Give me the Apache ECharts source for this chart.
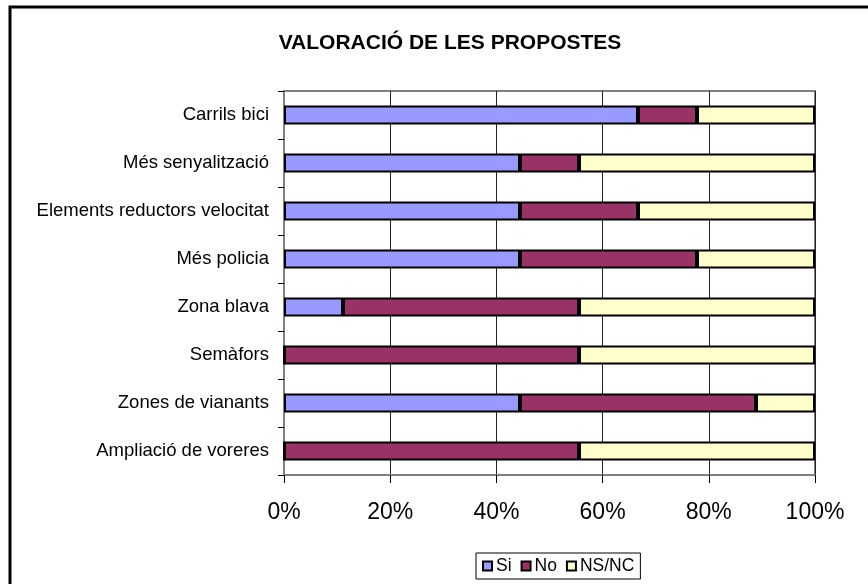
<!DOCTYPE html>
<html>
<head>
<meta charset="utf-8">
<script src="https://cdn.jsdelivr.net/npm/echarts@6/dist/echarts.min.js"></script>
<style>
  html, body { margin: 0; padding: 0; background: #fff; }
  #chart { width: 868px; height: 584px; }
</style>
</head>
<body>
<div id="chart"></div>
<script>
// respostes (9 persones per proposta)
const categories = ["Carrils bici", "Més senyalització", "Elements reductors velocitat", "Més policia",
  "Zona blava", "Semàfors", "Zones de vianants", "Ampliació de voreres"];
const si = [6, 4, 4, 4, 1, 0, 4, 0];
const no = [1, 1, 2, 3, 4, 5, 4, 5];
const nsnc = [2, 4, 3, 2, 4, 4, 1, 4];
const tickLabels = ["0%", "20%", "40%", "60%", "80%", "100%"];

const totals = categories.map((c, i) => si[i] + no[i] + nsnc[i]);
const pct = arr => arr.map((v, i) => (v / totals[i]) * 100);

const font = "'Liberation Sans', Arial, sans-serif";
const chart = echarts.init(document.getElementById("chart"));

function serie(name, data, color) {
  return {
    name: name,
    type: "bar",
    stack: "total",
    data: pct(data),
    barWidth: 19,
    itemStyle: { color: color, borderColor: "#000", borderWidth: 2 },
    emphasis: { disabled: true }
  };
}

chart.setOption({
  animation: false,
  textStyle: { fontFamily: font },
  title: {
    text: "VALORACIÓ DE LES PROPOSTES",
    left: 445,
    top: 28,
    textAlign: "center",
    textStyle: { fontFamily: font, fontWeight: "bold", fontSize: 21, color: "#000" }
  },
  graphic: [{
    type: "rect",
    shape: { x: 10, y: 7, width: 1000, height: 1000 },
    style: { fill: "none", stroke: "#000", lineWidth: 3 },
    z: -1
  }],
  legend: {
    top: 553,
    left: 476,
    icon: "rect",
    itemWidth: 9,
    itemHeight: 9,
    itemGap: 9,
    padding: [4, 6],
    borderColor: "#000",
    borderWidth: 1,
    textStyle: { fontFamily: font, fontSize: 17.5, color: "#000", padding: [0, 0, 0, -1] }
  },
  grid: {
    left: 284,
    right: 53,
    top: 91,
    bottom: 109,
    show: true,
    borderColor: "#808080",
    borderWidth: 2
  },
  xAxis: {
    type: "value",
    min: 0,
    max: 100,
    interval: 20,
    axisLine: { show: true, lineStyle: { color: "#808080", width: 2 } },
    axisTick: { show: true, length: 8, lineStyle: { color: "#000" } },
    axisLabel: {
      formatter: v => tickLabels[v / 20],
      fontFamily: font,
      fontSize: 23,
      color: "#000",
      margin: 26
    },
    splitLine: { show: true, lineStyle: { color: "#222", width: 1 } }
  },
  yAxis: {
    type: "category",
    inverse: true,
    data: categories,
    axisLine: { show: true, lineStyle: { color: "#808080", width: 2 } },
    axisTick: { show: true, length: 6, lineStyle: { color: "#000" } },
    axisLabel: { fontFamily: font, fontSize: 18.5, color: "#000", margin: 15 }
  },
  series: [
    serie("Si", si, "#9999FF"),
    serie("No", no, "#993366"),
    serie("NS/NC", nsnc, "#FFFFCC")
  ]
});
</script>
</body>
</html>
